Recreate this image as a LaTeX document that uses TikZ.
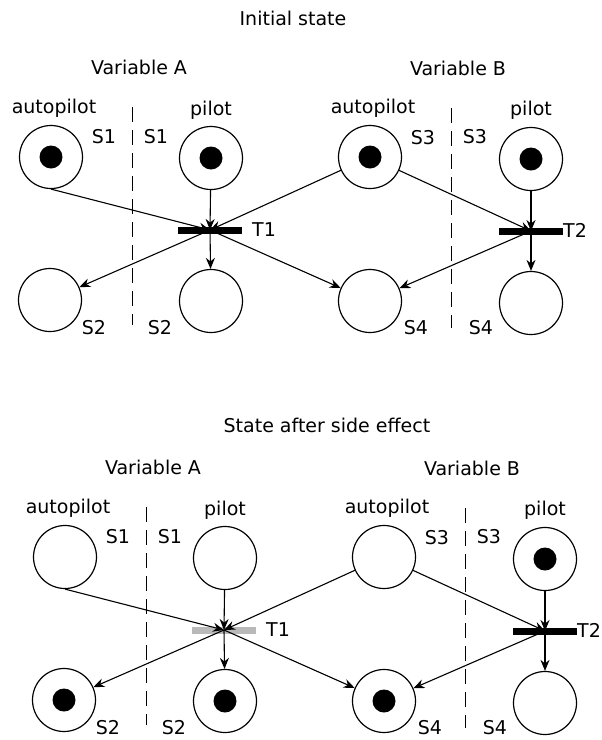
\documentclass[tikz,border=0pt]{standalone}
\usepackage{fontspec}
\setmainfont{DejaVu Sans}
\usepackage{tikz}
\usetikzlibrary{arrows.meta}

\begin{document}
\begin{tikzpicture}[x=1pt,y=-1pt,font=\fontsize{19}{22}\selectfont,
    place/.style={circle,draw,line width=1.2pt,minimum size=63pt,inner sep=0pt},
    token/.style={circle,fill=black,minimum size=23pt,inner sep=0pt},
    bar/.style={rectangle,minimum width=64pt,minimum height=7pt,inner sep=0pt},
    arc/.style={line width=1.1pt,-{Stealth[length=11pt,width=9pt]}},
    sep/.style={line width=1pt,dash pattern=on 15pt off 8pt}]
  \useasboundingbox (0,0) rectangle (602,740);
  \foreach \dx/\dy/\tx/\ty/\title/\barcol/\marked in {
      0/0/293/18/Initial state/black/{s1a,s1p,s3a,s3p},
      14/400/313/25/State after side effect/gray!55/{s2a,s2p,s4a,s3p}}{
    \begin{scope}[shift={(\dx,\dy)}]
      \node (title) at (\tx,\ty) {\title};
      \node (varA) at (139,67) {Variable A};
      \node (varB) at (458,68) {Variable B};
      \node (autoA) at (54,108) {autopilot};
      \node (pilotA) at (211,110) {pilot};
      \node (autoB) at (373,108) {autopilot};
      \node (pilotB) at (531,110) {pilot};
      % places
      \node[place] (s1a) at (51,157) {};
      \node[place] (s1p) at (211,158) {};
      \node[place] (s3a) at (370,157) {};
      \node[place] (s3p) at (531,159) {};
      \node[place] (s2a) at (50,300) {};
      \node[place] (s2p) at (211,301) {};
      \node[place] (s4a) at (370,301) {};
      \node[place] (s4p) at (531,303) {};
      \foreach \m in \marked
        \node[token] (tok-\m) at (\m) {};
      \node (l1a) at (104,137) {S1};
      \node (l1p) at (156,137) {S1};
      \node (l3a) at (423,138) {S3};
      \node (l3p) at (475,137) {S3};
      \node (l2a) at (94,328) {S2};
      \node (l2p) at (160,328) {S2};
      \node (l4a) at (416,328) {S4};
      \node (l4p) at (481,328) {S4};
      % transitions
      \node[bar,fill=\barcol] (t1) at (210,230) {};
      \node[bar,fill=black] (t2) at (531,231) {};
      \node (lt1) at (264,230) {T1};
      \node (lt2) at (575,230) {T2};
      \draw[sep] (132,107) -- (132,325);
      \draw[sep] (451,108) -- (451,328);
      \draw[arc] (s1a.south) -- (t1.center);
      \draw[arc] (s1p) -- (t1.center);
      \draw[arc] (s3a) -- (t1.center);
      \draw[arc] (s3a) -- (t2.center);
      \draw[arc] (s3p) -- (t2.center);
      \draw[arc] (t1.center) -- (s2a);
      \draw[arc] (t1.center) -- (s2p);
      \draw[arc] (t1.center) -- (s4a);
      \draw[arc] (t2.center) -- (s4a);
      \draw[arc] (t2.center) -- (s4p);
    \end{scope}
  }
\end{tikzpicture}
\end{document}
